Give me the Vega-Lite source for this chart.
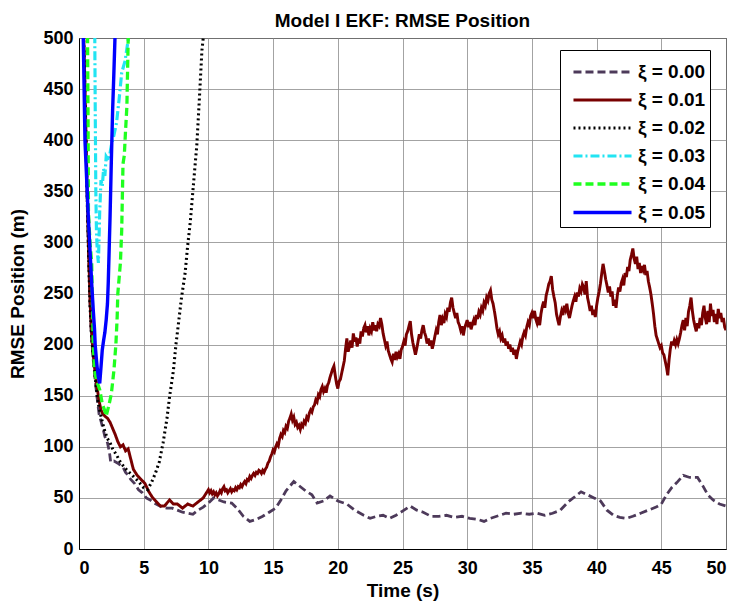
{
"$schema":"https://vega.github.io/schema/vega-lite/v6.json",
"autosize":{"type":"none"},
"width":647,"height":511,
"padding":{"left":79,"top":38,"right":10,"bottom":57},
"background":"white",
"title":{"text":"Model I EKF: RMSE Position","font":"Liberation Sans","fontSize":19,"fontWeight":"bold","color":"black","offset":-2},
"config":{
 "view":{"stroke":"black","strokeWidth":1},
 "axis":{"labelFont":"Liberation Sans","labelFontSize":18,"labelFontWeight":"bold","labelColor":"black","titleFont":"Liberation Sans","titleFontSize":19,"titleFontWeight":"bold","titleColor":"black","gridColor":"#8c8c8c","gridWidth":1,"gridOpacity":0.8,"domainColor":"black","ticks":false}
},
"data":{"values":[
{"s":"ξ = 0.00","t":0.25,"v":620},{"s":"ξ = 0.00","t":0.35,"v":500},{"s":"ξ = 0.00","t":0.45,"v":440},{"s":"ξ = 0.00","t":0.55,"v":390},{"s":"ξ = 0.00","t":0.65,"v":330},{"s":"ξ = 0.00","t":0.75,"v":280},{"s":"ξ = 0.00","t":0.85,"v":240},{"s":"ξ = 0.00","t":0.95,"v":210},{"s":"ξ = 0.00","t":1.1,"v":185},{"s":"ξ = 0.00","t":1.25,"v":165},{"s":"ξ = 0.00","t":1.4,"v":148},{"s":"ξ = 0.00","t":1.55,"v":132},{"s":"ξ = 0.00","t":1.7,"v":125},{"s":"ξ = 0.00","t":1.85,"v":118},{"s":"ξ = 0.00","t":2.0,"v":110},{"s":"ξ = 0.00","t":2.2,"v":104},{"s":"ξ = 0.00","t":2.35,"v":95},{"s":"ξ = 0.00","t":2.45,"v":85},{"s":"ξ = 0.00","t":2.7,"v":86},{"s":"ξ = 0.00","t":3.0,"v":84},{"s":"ξ = 0.00","t":3.2,"v":82},{"s":"ξ = 0.00","t":3.4,"v":80},{"s":"ξ = 0.00","t":3.6,"v":75},{"s":"ξ = 0.00","t":3.8,"v":72},{"s":"ξ = 0.00","t":4.0,"v":68},{"s":"ξ = 0.00","t":4.3,"v":64},{"s":"ξ = 0.00","t":4.6,"v":58},{"s":"ξ = 0.00","t":4.9,"v":55},{"s":"ξ = 0.00","t":5.2,"v":50},{"s":"ξ = 0.00","t":5.5,"v":48},{"s":"ξ = 0.00","t":5.8,"v":45},{"s":"ξ = 0.00","t":6.1,"v":43},{"s":"ξ = 0.00","t":6.4,"v":41},{"s":"ξ = 0.00","t":6.8,"v":40},{"s":"ξ = 0.00","t":7.2,"v":40},{"s":"ξ = 0.00","t":7.6,"v":38},{"s":"ξ = 0.00","t":8.0,"v":36},{"s":"ξ = 0.00","t":8.4,"v":35},{"s":"ξ = 0.00","t":8.8,"v":34},{"s":"ξ = 0.00","t":9.2,"v":38},{"s":"ξ = 0.00","t":9.6,"v":41},{"s":"ξ = 0.00","t":10.0,"v":45},{"s":"ξ = 0.00","t":10.4,"v":50},{"s":"ξ = 0.00","t":10.8,"v":48},{"s":"ξ = 0.00","t":11.2,"v":46},{"s":"ξ = 0.00","t":11.8,"v":45},{"s":"ξ = 0.00","t":12.2,"v":40},{"s":"ξ = 0.00","t":12.7,"v":32},{"s":"ξ = 0.00","t":13.2,"v":27},{"s":"ξ = 0.00","t":13.7,"v":29},{"s":"ξ = 0.00","t":14.2,"v":32},{"s":"ξ = 0.00","t":14.7,"v":36},{"s":"ξ = 0.00","t":15.2,"v":40},{"s":"ξ = 0.00","t":15.6,"v":48},{"s":"ξ = 0.00","t":16.0,"v":57},{"s":"ξ = 0.00","t":16.6,"v":66},{"s":"ξ = 0.00","t":17.0,"v":62},{"s":"ξ = 0.00","t":17.5,"v":57},{"s":"ξ = 0.00","t":18.0,"v":53},{"s":"ξ = 0.00","t":18.4,"v":45},{"s":"ξ = 0.00","t":18.9,"v":47},{"s":"ξ = 0.00","t":19.4,"v":52},{"s":"ξ = 0.00","t":20.0,"v":47},{"s":"ξ = 0.00","t":20.7,"v":44},{"s":"ξ = 0.00","t":21.3,"v":38},{"s":"ξ = 0.00","t":22.0,"v":33},{"s":"ξ = 0.00","t":22.5,"v":30},{"s":"ξ = 0.00","t":23.0,"v":32},{"s":"ξ = 0.00","t":23.5,"v":33},{"s":"ξ = 0.00","t":24.0,"v":30},{"s":"ξ = 0.00","t":24.5,"v":33},{"s":"ξ = 0.00","t":25.0,"v":37},{"s":"ξ = 0.00","t":25.6,"v":42},{"s":"ξ = 0.00","t":26.1,"v":38},{"s":"ξ = 0.00","t":26.6,"v":36},{"s":"ξ = 0.00","t":27.2,"v":32},{"s":"ξ = 0.00","t":27.8,"v":32},{"s":"ξ = 0.00","t":28.4,"v":33},{"s":"ξ = 0.00","t":29.0,"v":31},{"s":"ξ = 0.00","t":29.6,"v":32},{"s":"ξ = 0.00","t":30.2,"v":30},{"s":"ξ = 0.00","t":30.8,"v":29},{"s":"ξ = 0.00","t":31.3,"v":27},{"s":"ξ = 0.00","t":31.8,"v":30},{"s":"ξ = 0.00","t":32.5,"v":33},{"s":"ξ = 0.00","t":33.0,"v":35},{"s":"ξ = 0.00","t":33.6,"v":34},{"s":"ξ = 0.00","t":34.2,"v":35},{"s":"ξ = 0.00","t":34.8,"v":34},{"s":"ξ = 0.00","t":35.4,"v":35},{"s":"ξ = 0.00","t":36.0,"v":33},{"s":"ξ = 0.00","t":36.6,"v":35},{"s":"ξ = 0.00","t":37.2,"v":38},{"s":"ξ = 0.00","t":37.8,"v":46},{"s":"ξ = 0.00","t":38.4,"v":52},{"s":"ξ = 0.00","t":38.8,"v":56},{"s":"ξ = 0.00","t":39.3,"v":53},{"s":"ξ = 0.00","t":39.8,"v":50},{"s":"ξ = 0.00","t":40.3,"v":47},{"s":"ξ = 0.00","t":40.8,"v":38},{"s":"ξ = 0.00","t":41.3,"v":33},{"s":"ξ = 0.00","t":41.8,"v":31},{"s":"ξ = 0.00","t":42.3,"v":30},{"s":"ξ = 0.00","t":42.8,"v":32},{"s":"ξ = 0.00","t":43.4,"v":35},{"s":"ξ = 0.00","t":44.0,"v":38},{"s":"ξ = 0.00","t":44.6,"v":41},{"s":"ξ = 0.00","t":45.0,"v":44},{"s":"ξ = 0.00","t":45.4,"v":53},{"s":"ξ = 0.00","t":45.8,"v":60},{"s":"ξ = 0.00","t":46.2,"v":65},{"s":"ξ = 0.00","t":46.7,"v":72},{"s":"ξ = 0.00","t":47.2,"v":70},{"s":"ξ = 0.00","t":47.8,"v":70},{"s":"ξ = 0.00","t":48.2,"v":62},{"s":"ξ = 0.00","t":48.6,"v":53},{"s":"ξ = 0.00","t":49.0,"v":48},{"s":"ξ = 0.00","t":49.5,"v":44},{"s":"ξ = 0.00","t":50,"v":42},
{"s":"ξ = 0.01","t":0.25,"v":620},{"s":"ξ = 0.01","t":0.35,"v":510},{"s":"ξ = 0.01","t":0.45,"v":460},{"s":"ξ = 0.01","t":0.55,"v":400},{"s":"ξ = 0.01","t":0.65,"v":340},{"s":"ξ = 0.01","t":0.75,"v":290},{"s":"ξ = 0.01","t":0.85,"v":245},{"s":"ξ = 0.01","t":0.95,"v":215},{"s":"ξ = 0.01","t":1.1,"v":190},{"s":"ξ = 0.01","t":1.25,"v":172},{"s":"ξ = 0.01","t":1.4,"v":158},{"s":"ξ = 0.01","t":1.55,"v":145},{"s":"ξ = 0.01","t":1.7,"v":136},{"s":"ξ = 0.01","t":1.85,"v":132},{"s":"ξ = 0.01","t":2.0,"v":130},{"s":"ξ = 0.01","t":2.2,"v":128},{"s":"ξ = 0.01","t":2.4,"v":124},{"s":"ξ = 0.01","t":2.6,"v":118},{"s":"ξ = 0.01","t":2.8,"v":112},{"s":"ξ = 0.01","t":3.0,"v":105},{"s":"ξ = 0.01","t":3.2,"v":100},{"s":"ξ = 0.01","t":3.4,"v":102},{"s":"ξ = 0.01","t":3.6,"v":96},{"s":"ξ = 0.01","t":3.8,"v":98},{"s":"ξ = 0.01","t":4.0,"v":88},{"s":"ξ = 0.01","t":4.2,"v":78},{"s":"ξ = 0.01","t":4.5,"v":72},{"s":"ξ = 0.01","t":4.8,"v":68},{"s":"ξ = 0.01","t":5.1,"v":64},{"s":"ξ = 0.01","t":5.4,"v":56},{"s":"ξ = 0.01","t":5.7,"v":50},{"s":"ξ = 0.01","t":6.0,"v":46},{"s":"ξ = 0.01","t":6.3,"v":42},{"s":"ξ = 0.01","t":6.6,"v":42},{"s":"ξ = 0.01","t":7.0,"v":48},{"s":"ξ = 0.01","t":7.3,"v":44},{"s":"ξ = 0.01","t":7.6,"v":44},{"s":"ξ = 0.01","t":8.0,"v":40},{"s":"ξ = 0.01","t":8.4,"v":44},{"s":"ξ = 0.01","t":8.8,"v":42},{"s":"ξ = 0.01","t":9.2,"v":46},{"s":"ξ = 0.01","t":9.6,"v":50},
{"s":"ξ = 0.01","t":10.0,"v":58},{"s":"ξ = 0.01","t":10.1,"v":55},{"s":"ξ = 0.01","t":10.2,"v":57},{"s":"ξ = 0.01","t":10.3,"v":54},{"s":"ξ = 0.01","t":10.4,"v":56},{"s":"ξ = 0.01","t":10.5,"v":53},{"s":"ξ = 0.01","t":10.6,"v":55},{"s":"ξ = 0.01","t":10.7,"v":52},{"s":"ξ = 0.01","t":10.8,"v":54},{"s":"ξ = 0.01","t":10.9,"v":57},{"s":"ξ = 0.01","t":11.0,"v":55},{"s":"ξ = 0.01","t":11.1,"v":59},{"s":"ξ = 0.01","t":11.2,"v":61},{"s":"ξ = 0.01","t":11.3,"v":57},{"s":"ξ = 0.01","t":11.4,"v":58},{"s":"ξ = 0.01","t":11.5,"v":55},{"s":"ξ = 0.01","t":11.6,"v":57},{"s":"ξ = 0.01","t":11.7,"v":59},{"s":"ξ = 0.01","t":11.8,"v":56},{"s":"ξ = 0.01","t":11.9,"v":58},{"s":"ξ = 0.01","t":12.0,"v":57},{"s":"ξ = 0.01","t":12.1,"v":60},{"s":"ξ = 0.01","t":12.2,"v":58},{"s":"ξ = 0.01","t":12.3,"v":61},{"s":"ξ = 0.01","t":12.4,"v":60},{"s":"ξ = 0.01","t":12.5,"v":63},{"s":"ξ = 0.01","t":12.6,"v":61},{"s":"ξ = 0.01","t":12.7,"v":64},{"s":"ξ = 0.01","t":12.8,"v":66},{"s":"ξ = 0.01","t":12.9,"v":64},{"s":"ξ = 0.01","t":13.0,"v":68},{"s":"ξ = 0.01","t":13.1,"v":67},{"s":"ξ = 0.01","t":13.2,"v":71},{"s":"ξ = 0.01","t":13.3,"v":69},{"s":"ξ = 0.01","t":13.4,"v":72},{"s":"ξ = 0.01","t":13.5,"v":74},{"s":"ξ = 0.01","t":13.6,"v":72},{"s":"ξ = 0.01","t":13.7,"v":75},{"s":"ξ = 0.01","t":13.8,"v":74},{"s":"ξ = 0.01","t":13.9,"v":77},{"s":"ξ = 0.01","t":14.0,"v":76},{"s":"ξ = 0.01","t":14.1,"v":74},{"s":"ξ = 0.01","t":14.2,"v":77},{"s":"ξ = 0.01","t":14.3,"v":75},{"s":"ξ = 0.01","t":14.4,"v":78},{"s":"ξ = 0.01","t":14.5,"v":80},{"s":"ξ = 0.01","t":14.6,"v":84},{"s":"ξ = 0.01","t":14.7,"v":86},{"s":"ξ = 0.01","t":14.8,"v":90},{"s":"ξ = 0.01","t":14.9,"v":93},{"s":"ξ = 0.01","t":15.0,"v":97},{"s":"ξ = 0.01","t":15.1,"v":95},{"s":"ξ = 0.01","t":15.2,"v":100},{"s":"ξ = 0.01","t":15.3,"v":103},{"s":"ξ = 0.01","t":15.4,"v":101},{"s":"ξ = 0.01","t":15.5,"v":108},{"s":"ξ = 0.01","t":15.6,"v":112},{"s":"ξ = 0.01","t":15.7,"v":110},{"s":"ξ = 0.01","t":15.8,"v":116},{"s":"ξ = 0.01","t":15.9,"v":114},{"s":"ξ = 0.01","t":16.0,"v":120},{"s":"ξ = 0.01","t":16.1,"v":118},{"s":"ξ = 0.01","t":16.2,"v":125},{"s":"ξ = 0.01","t":16.3,"v":128},{"s":"ξ = 0.01","t":16.4,"v":132},{"s":"ξ = 0.01","t":16.5,"v":126},{"s":"ξ = 0.01","t":16.6,"v":129},{"s":"ξ = 0.01","t":16.7,"v":122},{"s":"ξ = 0.01","t":16.8,"v":124},{"s":"ξ = 0.01","t":16.9,"v":119},{"s":"ξ = 0.01","t":17.0,"v":121},{"s":"ξ = 0.01","t":17.1,"v":117},{"s":"ξ = 0.01","t":17.2,"v":122},{"s":"ξ = 0.01","t":17.3,"v":120},{"s":"ξ = 0.01","t":17.4,"v":125},{"s":"ξ = 0.01","t":17.5,"v":123},{"s":"ξ = 0.01","t":17.6,"v":129},{"s":"ξ = 0.01","t":17.7,"v":127},{"s":"ξ = 0.01","t":17.8,"v":133},{"s":"ξ = 0.01","t":17.9,"v":136},{"s":"ξ = 0.01","t":18.0,"v":134},{"s":"ξ = 0.01","t":18.1,"v":139},{"s":"ξ = 0.01","t":18.2,"v":141},{"s":"ξ = 0.01","t":18.3,"v":146},{"s":"ξ = 0.01","t":18.4,"v":144},{"s":"ξ = 0.01","t":18.5,"v":151},{"s":"ξ = 0.01","t":18.6,"v":149},{"s":"ξ = 0.01","t":18.7,"v":156},{"s":"ξ = 0.01","t":18.8,"v":159},{"s":"ξ = 0.01","t":18.9,"v":154},{"s":"ξ = 0.01","t":19.0,"v":157},{"s":"ξ = 0.01","t":19.1,"v":153},{"s":"ξ = 0.01","t":19.2,"v":160},{"s":"ξ = 0.01","t":19.3,"v":163},{"s":"ξ = 0.01","t":19.4,"v":168},{"s":"ξ = 0.01","t":19.5,"v":172},{"s":"ξ = 0.01","t":19.6,"v":176},{"s":"ξ = 0.01","t":19.7,"v":179},{"s":"ξ = 0.01","t":19.8,"v":170},{"s":"ξ = 0.01","t":19.9,"v":162},{"s":"ξ = 0.01","t":20.0,"v":157},{"s":"ξ = 0.01","t":20.1,"v":164},{"s":"ξ = 0.01","t":20.2,"v":166},{"s":"ξ = 0.01","t":20.3,"v":172},{"s":"ξ = 0.01","t":20.4,"v":178},{"s":"ξ = 0.01","t":20.5,"v":184},{"s":"ξ = 0.01","t":20.6,"v":196},{"s":"ξ = 0.01","t":20.7,"v":206},{"s":"ξ = 0.01","t":20.8,"v":193},{"s":"ξ = 0.01","t":20.9,"v":198},{"s":"ξ = 0.01","t":21.0,"v":204},{"s":"ξ = 0.01","t":21.1,"v":197},{"s":"ξ = 0.01","t":21.2,"v":211},{"s":"ξ = 0.01","t":21.3,"v":203},{"s":"ξ = 0.01","t":21.4,"v":207},{"s":"ξ = 0.01","t":21.5,"v":198},{"s":"ξ = 0.01","t":21.6,"v":206},{"s":"ξ = 0.01","t":21.7,"v":201},{"s":"ξ = 0.01","t":21.8,"v":213},{"s":"ξ = 0.01","t":21.9,"v":208},{"s":"ξ = 0.01","t":22.0,"v":216},{"s":"ξ = 0.01","t":22.1,"v":219},{"s":"ξ = 0.01","t":22.2,"v":212},{"s":"ξ = 0.01","t":22.3,"v":218},{"s":"ξ = 0.01","t":22.4,"v":209},{"s":"ξ = 0.01","t":22.5,"v":216},{"s":"ξ = 0.01","t":22.6,"v":213},{"s":"ξ = 0.01","t":22.7,"v":222},{"s":"ξ = 0.01","t":22.8,"v":214},{"s":"ξ = 0.01","t":22.9,"v":219},{"s":"ξ = 0.01","t":23.0,"v":213},{"s":"ξ = 0.01","t":23.1,"v":220},{"s":"ξ = 0.01","t":23.2,"v":218},{"s":"ξ = 0.01","t":23.3,"v":226},{"s":"ξ = 0.01","t":23.4,"v":220},{"s":"ξ = 0.01","t":23.5,"v":211},{"s":"ξ = 0.01","t":23.6,"v":205},{"s":"ξ = 0.01","t":23.7,"v":199},{"s":"ξ = 0.01","t":23.8,"v":203},{"s":"ξ = 0.01","t":23.9,"v":194},{"s":"ξ = 0.01","t":24.0,"v":190},{"s":"ξ = 0.01","t":24.1,"v":186},{"s":"ξ = 0.01","t":24.2,"v":183},{"s":"ξ = 0.01","t":24.3,"v":191},{"s":"ξ = 0.01","t":24.4,"v":185},{"s":"ξ = 0.01","t":24.5,"v":193},{"s":"ξ = 0.01","t":24.6,"v":188},{"s":"ξ = 0.01","t":24.7,"v":191},{"s":"ξ = 0.01","t":24.8,"v":186},{"s":"ξ = 0.01","t":24.9,"v":195},{"s":"ξ = 0.01","t":25.0,"v":198},{"s":"ξ = 0.01","t":25.1,"v":203},{"s":"ξ = 0.01","t":25.2,"v":199},{"s":"ξ = 0.01","t":25.3,"v":210},{"s":"ξ = 0.01","t":25.4,"v":213},{"s":"ξ = 0.01","t":25.5,"v":218},{"s":"ξ = 0.01","t":25.6,"v":223},{"s":"ξ = 0.01","t":25.7,"v":210},{"s":"ξ = 0.01","t":25.8,"v":202},{"s":"ξ = 0.01","t":25.9,"v":196},{"s":"ξ = 0.01","t":26.0,"v":190},{"s":"ξ = 0.01","t":26.1,"v":196},{"s":"ξ = 0.01","t":26.2,"v":203},{"s":"ξ = 0.01","t":26.3,"v":210},{"s":"ξ = 0.01","t":26.4,"v":206},{"s":"ξ = 0.01","t":26.5,"v":214},{"s":"ξ = 0.01","t":26.6,"v":219},{"s":"ξ = 0.01","t":26.7,"v":212},{"s":"ξ = 0.01","t":26.8,"v":208},{"s":"ξ = 0.01","t":26.9,"v":201},{"s":"ξ = 0.01","t":27.0,"v":206},{"s":"ξ = 0.01","t":27.1,"v":199},{"s":"ξ = 0.01","t":27.2,"v":204},{"s":"ξ = 0.01","t":27.3,"v":196},{"s":"ξ = 0.01","t":27.4,"v":201},{"s":"ξ = 0.01","t":27.5,"v":208},{"s":"ξ = 0.01","t":27.6,"v":214},{"s":"ξ = 0.01","t":27.7,"v":210},{"s":"ξ = 0.01","t":27.8,"v":222},{"s":"ξ = 0.01","t":27.9,"v":229},{"s":"ξ = 0.01","t":28.0,"v":219},{"s":"ξ = 0.01","t":28.1,"v":225},{"s":"ξ = 0.01","t":28.2,"v":221},{"s":"ξ = 0.01","t":28.3,"v":230},{"s":"ξ = 0.01","t":28.4,"v":227},{"s":"ξ = 0.01","t":28.5,"v":236},{"s":"ξ = 0.01","t":28.6,"v":232},{"s":"ξ = 0.01","t":28.7,"v":241},{"s":"ξ = 0.01","t":28.8,"v":246},{"s":"ξ = 0.01","t":28.9,"v":236},{"s":"ξ = 0.01","t":29.0,"v":231},{"s":"ξ = 0.01","t":29.1,"v":226},{"s":"ξ = 0.01","t":29.2,"v":231},{"s":"ξ = 0.01","t":29.3,"v":222},{"s":"ξ = 0.01","t":29.4,"v":219},{"s":"ξ = 0.01","t":29.5,"v":214},{"s":"ξ = 0.01","t":29.6,"v":218},{"s":"ξ = 0.01","t":29.7,"v":209},{"s":"ξ = 0.01","t":29.8,"v":216},{"s":"ξ = 0.01","t":29.9,"v":220},{"s":"ξ = 0.01","t":30.0,"v":224},{"s":"ξ = 0.01","t":30.1,"v":217},{"s":"ξ = 0.01","t":30.2,"v":222},{"s":"ξ = 0.01","t":30.3,"v":215},{"s":"ξ = 0.01","t":30.4,"v":220},{"s":"ξ = 0.01","t":30.5,"v":224},{"s":"ξ = 0.01","t":30.6,"v":219},{"s":"ξ = 0.01","t":30.7,"v":229},{"s":"ξ = 0.01","t":30.8,"v":225},{"s":"ξ = 0.01","t":30.9,"v":232},{"s":"ξ = 0.01","t":31.0,"v":229},{"s":"ξ = 0.01","t":31.1,"v":236},{"s":"ξ = 0.01","t":31.2,"v":233},{"s":"ξ = 0.01","t":31.3,"v":241},{"s":"ξ = 0.01","t":31.4,"v":238},{"s":"ξ = 0.01","t":31.5,"v":246},{"s":"ξ = 0.01","t":31.6,"v":243},{"s":"ξ = 0.01","t":31.7,"v":250},{"s":"ξ = 0.01","t":31.8,"v":253},{"s":"ξ = 0.01","t":31.9,"v":244},{"s":"ξ = 0.01","t":32.0,"v":240},{"s":"ξ = 0.01","t":32.1,"v":233},{"s":"ξ = 0.01","t":32.2,"v":225},{"s":"ξ = 0.01","t":32.3,"v":216},{"s":"ξ = 0.01","t":32.4,"v":210},{"s":"ξ = 0.01","t":32.5,"v":213},{"s":"ξ = 0.01","t":32.6,"v":206},{"s":"ξ = 0.01","t":32.7,"v":209},{"s":"ξ = 0.01","t":32.8,"v":202},{"s":"ξ = 0.01","t":32.9,"v":206},{"s":"ξ = 0.01","t":33.0,"v":199},{"s":"ξ = 0.01","t":33.1,"v":203},{"s":"ξ = 0.01","t":33.2,"v":196},{"s":"ξ = 0.01","t":33.3,"v":200},{"s":"ξ = 0.01","t":33.4,"v":193},{"s":"ξ = 0.01","t":33.5,"v":197},{"s":"ξ = 0.01","t":33.6,"v":190},{"s":"ξ = 0.01","t":33.7,"v":195},{"s":"ξ = 0.01","t":33.8,"v":186},{"s":"ξ = 0.01","t":33.9,"v":193},{"s":"ξ = 0.01","t":34.0,"v":198},{"s":"ξ = 0.01","t":34.1,"v":203},{"s":"ξ = 0.01","t":34.2,"v":200},{"s":"ξ = 0.01","t":34.3,"v":208},{"s":"ξ = 0.01","t":34.4,"v":212},{"s":"ξ = 0.01","t":34.5,"v":209},{"s":"ξ = 0.01","t":34.6,"v":217},{"s":"ξ = 0.01","t":34.7,"v":222},{"s":"ξ = 0.01","t":34.8,"v":219},{"s":"ξ = 0.01","t":34.9,"v":228},{"s":"ξ = 0.01","t":35.0,"v":231},{"s":"ξ = 0.01","t":35.1,"v":226},{"s":"ξ = 0.01","t":35.2,"v":233},{"s":"ξ = 0.01","t":35.3,"v":225},{"s":"ξ = 0.01","t":35.4,"v":221},{"s":"ξ = 0.01","t":35.5,"v":227},{"s":"ξ = 0.01","t":35.6,"v":219},{"s":"ξ = 0.01","t":35.7,"v":230},{"s":"ξ = 0.01","t":35.8,"v":237},{"s":"ξ = 0.01","t":35.9,"v":242},{"s":"ξ = 0.01","t":36.0,"v":236},{"s":"ξ = 0.01","t":36.1,"v":248},{"s":"ξ = 0.01","t":36.2,"v":253},{"s":"ξ = 0.01","t":36.3,"v":259},{"s":"ξ = 0.01","t":36.4,"v":262},{"s":"ξ = 0.01","t":36.5,"v":267},{"s":"ξ = 0.01","t":36.6,"v":254},{"s":"ξ = 0.01","t":36.7,"v":247},{"s":"ξ = 0.01","t":36.8,"v":241},{"s":"ξ = 0.01","t":36.9,"v":230},{"s":"ξ = 0.01","t":37.0,"v":224},{"s":"ξ = 0.01","t":37.1,"v":219},{"s":"ξ = 0.01","t":37.2,"v":227},{"s":"ξ = 0.01","t":37.3,"v":233},{"s":"ξ = 0.01","t":37.4,"v":229},{"s":"ξ = 0.01","t":37.5,"v":238},{"s":"ξ = 0.01","t":37.6,"v":234},{"s":"ξ = 0.01","t":37.7,"v":240},{"s":"ξ = 0.01","t":37.8,"v":231},{"s":"ξ = 0.01","t":37.9,"v":226},{"s":"ξ = 0.01","t":38.0,"v":232},{"s":"ξ = 0.01","t":38.1,"v":238},{"s":"ξ = 0.01","t":38.2,"v":243},{"s":"ξ = 0.01","t":38.3,"v":247},{"s":"ξ = 0.01","t":38.4,"v":242},{"s":"ξ = 0.01","t":38.5,"v":251},{"s":"ξ = 0.01","t":38.6,"v":247},{"s":"ξ = 0.01","t":38.7,"v":255},{"s":"ξ = 0.01","t":38.8,"v":252},{"s":"ξ = 0.01","t":38.9,"v":259},{"s":"ξ = 0.01","t":39.0,"v":256},{"s":"ξ = 0.01","t":39.1,"v":249},{"s":"ξ = 0.01","t":39.2,"v":262},{"s":"ξ = 0.01","t":39.3,"v":246},{"s":"ξ = 0.01","t":39.4,"v":240},{"s":"ξ = 0.01","t":39.5,"v":233},{"s":"ξ = 0.01","t":39.6,"v":238},{"s":"ξ = 0.01","t":39.7,"v":229},{"s":"ξ = 0.01","t":39.8,"v":234},{"s":"ξ = 0.01","t":39.9,"v":227},{"s":"ξ = 0.01","t":40.0,"v":238},{"s":"ξ = 0.01","t":40.1,"v":246},{"s":"ξ = 0.01","t":40.2,"v":252},{"s":"ξ = 0.01","t":40.3,"v":260},{"s":"ξ = 0.01","t":40.4,"v":270},{"s":"ξ = 0.01","t":40.5,"v":279},{"s":"ξ = 0.01","t":40.6,"v":272},{"s":"ξ = 0.01","t":40.7,"v":264},{"s":"ξ = 0.01","t":40.8,"v":258},{"s":"ξ = 0.01","t":40.9,"v":251},{"s":"ξ = 0.01","t":41.0,"v":257},{"s":"ξ = 0.01","t":41.1,"v":247},{"s":"ξ = 0.01","t":41.2,"v":252},{"s":"ξ = 0.01","t":41.3,"v":238},{"s":"ξ = 0.01","t":41.4,"v":244},{"s":"ξ = 0.01","t":41.5,"v":236},{"s":"ξ = 0.01","t":41.6,"v":248},{"s":"ξ = 0.01","t":41.7,"v":256},{"s":"ξ = 0.01","t":41.8,"v":252},{"s":"ξ = 0.01","t":41.9,"v":260},{"s":"ξ = 0.01","t":42.0,"v":264},{"s":"ξ = 0.01","t":42.1,"v":258},{"s":"ξ = 0.01","t":42.2,"v":270},{"s":"ξ = 0.01","t":42.3,"v":266},{"s":"ξ = 0.01","t":42.4,"v":276},{"s":"ξ = 0.01","t":42.5,"v":272},{"s":"ξ = 0.01","t":42.6,"v":283},{"s":"ξ = 0.01","t":42.7,"v":288},{"s":"ξ = 0.01","t":42.8,"v":294},{"s":"ξ = 0.01","t":42.9,"v":284},{"s":"ξ = 0.01","t":43.0,"v":279},{"s":"ξ = 0.01","t":43.1,"v":286},{"s":"ξ = 0.01","t":43.2,"v":274},{"s":"ξ = 0.01","t":43.3,"v":280},{"s":"ξ = 0.01","t":43.4,"v":270},{"s":"ξ = 0.01","t":43.5,"v":277},{"s":"ξ = 0.01","t":43.6,"v":273},{"s":"ξ = 0.01","t":43.7,"v":278},{"s":"ξ = 0.01","t":43.8,"v":268},{"s":"ξ = 0.01","t":43.9,"v":272},{"s":"ξ = 0.01","t":44.0,"v":262},{"s":"ξ = 0.01","t":44.1,"v":256},{"s":"ξ = 0.01","t":44.2,"v":249},{"s":"ξ = 0.01","t":44.3,"v":240},{"s":"ξ = 0.01","t":44.4,"v":230},{"s":"ξ = 0.01","t":44.5,"v":218},{"s":"ξ = 0.01","t":44.6,"v":209},{"s":"ξ = 0.01","t":44.7,"v":205},{"s":"ξ = 0.01","t":44.8,"v":201},{"s":"ξ = 0.01","t":44.9,"v":197},{"s":"ξ = 0.01","t":45.0,"v":199},{"s":"ξ = 0.01","t":45.1,"v":192},{"s":"ξ = 0.01","t":45.2,"v":190},{"s":"ξ = 0.01","t":45.3,"v":184},{"s":"ξ = 0.01","t":45.4,"v":178},{"s":"ξ = 0.01","t":45.5,"v":170},{"s":"ξ = 0.01","t":45.6,"v":185},{"s":"ξ = 0.01","t":45.7,"v":196},{"s":"ξ = 0.01","t":45.8,"v":203},{"s":"ξ = 0.01","t":45.9,"v":199},{"s":"ξ = 0.01","t":46.0,"v":204},{"s":"ξ = 0.01","t":46.1,"v":200},{"s":"ξ = 0.01","t":46.2,"v":205},{"s":"ξ = 0.01","t":46.3,"v":201},{"s":"ξ = 0.01","t":46.4,"v":206},{"s":"ξ = 0.01","t":46.5,"v":212},{"s":"ξ = 0.01","t":46.6,"v":219},{"s":"ξ = 0.01","t":46.7,"v":224},{"s":"ξ = 0.01","t":46.8,"v":214},{"s":"ξ = 0.01","t":46.9,"v":226},{"s":"ξ = 0.01","t":47.0,"v":218},{"s":"ξ = 0.01","t":47.1,"v":232},{"s":"ξ = 0.01","t":47.2,"v":238},{"s":"ξ = 0.01","t":47.3,"v":246},{"s":"ξ = 0.01","t":47.4,"v":233},{"s":"ξ = 0.01","t":47.5,"v":224},{"s":"ξ = 0.01","t":47.6,"v":218},{"s":"ξ = 0.01","t":47.7,"v":213},{"s":"ξ = 0.01","t":47.8,"v":221},{"s":"ξ = 0.01","t":47.9,"v":216},{"s":"ξ = 0.01","t":48.0,"v":226},{"s":"ξ = 0.01","t":48.1,"v":219},{"s":"ξ = 0.01","t":48.2,"v":231},{"s":"ξ = 0.01","t":48.3,"v":238},{"s":"ξ = 0.01","t":48.4,"v":226},{"s":"ξ = 0.01","t":48.5,"v":220},{"s":"ξ = 0.01","t":48.6,"v":233},{"s":"ξ = 0.01","t":48.7,"v":222},{"s":"ξ = 0.01","t":48.8,"v":240},{"s":"ξ = 0.01","t":48.9,"v":228},{"s":"ξ = 0.01","t":49.0,"v":234},{"s":"ξ = 0.01","t":49.1,"v":222},{"s":"ξ = 0.01","t":49.2,"v":230},{"s":"ξ = 0.01","t":49.3,"v":220},{"s":"ξ = 0.01","t":49.4,"v":235},{"s":"ξ = 0.01","t":49.5,"v":226},{"s":"ξ = 0.01","t":49.6,"v":231},{"s":"ξ = 0.01","t":49.7,"v":222},{"s":"ξ = 0.01","t":49.8,"v":226},{"s":"ξ = 0.01","t":49.9,"v":217},{"s":"ξ = 0.01","t":50.0,"v":214},
{"s":"ξ = 0.02","t":0.25,"v":620},{"s":"ξ = 0.02","t":0.35,"v":505},{"s":"ξ = 0.02","t":0.45,"v":450},{"s":"ξ = 0.02","t":0.55,"v":395},{"s":"ξ = 0.02","t":0.65,"v":335},{"s":"ξ = 0.02","t":0.75,"v":285},{"s":"ξ = 0.02","t":0.85,"v":240},{"s":"ξ = 0.02","t":0.95,"v":212},{"s":"ξ = 0.02","t":1.1,"v":188},{"s":"ξ = 0.02","t":1.25,"v":168},{"s":"ξ = 0.02","t":1.4,"v":150},{"s":"ξ = 0.02","t":1.55,"v":138},{"s":"ξ = 0.02","t":1.7,"v":130},{"s":"ξ = 0.02","t":1.85,"v":122},{"s":"ξ = 0.02","t":2.0,"v":115},{"s":"ξ = 0.02","t":2.2,"v":108},{"s":"ξ = 0.02","t":2.4,"v":104},{"s":"ξ = 0.02","t":2.6,"v":98},{"s":"ξ = 0.02","t":2.9,"v":92},{"s":"ξ = 0.02","t":3.2,"v":85},{"s":"ξ = 0.02","t":3.5,"v":80},{"s":"ξ = 0.02","t":3.8,"v":76},{"s":"ξ = 0.02","t":4.2,"v":71},{"s":"ξ = 0.02","t":4.6,"v":66},{"s":"ξ = 0.02","t":5.0,"v":60},{"s":"ξ = 0.02","t":5.3,"v":58},{"s":"ξ = 0.02","t":5.6,"v":65},{"s":"ξ = 0.02","t":5.9,"v":74},{"s":"ξ = 0.02","t":6.2,"v":85},{"s":"ξ = 0.02","t":6.5,"v":104},{"s":"ξ = 0.02","t":6.8,"v":128},{"s":"ξ = 0.02","t":7.0,"v":149},{"s":"ξ = 0.02","t":7.3,"v":175},{"s":"ξ = 0.02","t":7.5,"v":201},{"s":"ξ = 0.02","t":7.7,"v":222},{"s":"ξ = 0.02","t":7.9,"v":244},{"s":"ξ = 0.02","t":8.2,"v":270},{"s":"ξ = 0.02","t":8.4,"v":297},{"s":"ξ = 0.02","t":8.6,"v":320},{"s":"ξ = 0.02","t":8.8,"v":350},{"s":"ξ = 0.02","t":9.0,"v":380},{"s":"ξ = 0.02","t":9.1,"v":394},{"s":"ξ = 0.02","t":9.3,"v":440},{"s":"ξ = 0.02","t":9.5,"v":488},{"s":"ξ = 0.02","t":9.6,"v":500},{"s":"ξ = 0.02","t":9.8,"v":560},
{"s":"ξ = 0.03","t":1.15,"v":620},{"s":"ξ = 0.03","t":1.22,"v":500},{"s":"ξ = 0.03","t":1.26,"v":420},{"s":"ξ = 0.03","t":1.3,"v":350},{"s":"ξ = 0.03","t":1.35,"v":310},{"s":"ξ = 0.03","t":1.42,"v":290},{"s":"ξ = 0.03","t":1.5,"v":280},{"s":"ξ = 0.03","t":1.6,"v":330},{"s":"ξ = 0.03","t":1.7,"v":361},{"s":"ξ = 0.03","t":1.8,"v":355},{"s":"ξ = 0.03","t":1.9,"v":372},{"s":"ξ = 0.03","t":2.0,"v":365},{"s":"ξ = 0.03","t":2.1,"v":384},{"s":"ξ = 0.03","t":2.3,"v":380},{"s":"ξ = 0.03","t":2.5,"v":395},{"s":"ξ = 0.03","t":2.7,"v":405},{"s":"ξ = 0.03","t":2.9,"v":417},{"s":"ξ = 0.03","t":3.1,"v":440},{"s":"ξ = 0.03","t":3.3,"v":466},{"s":"ξ = 0.03","t":3.55,"v":477},{"s":"ξ = 0.03","t":3.8,"v":498},{"s":"ξ = 0.03","t":3.9,"v":560},
{"s":"ξ = 0.04","t":0.6,"v":620},{"s":"ξ = 0.04","t":0.66,"v":500},{"s":"ξ = 0.04","t":0.7,"v":420},{"s":"ξ = 0.04","t":0.73,"v":330},{"s":"ξ = 0.04","t":0.85,"v":300},{"s":"ξ = 0.04","t":0.98,"v":280},{"s":"ξ = 0.04","t":1.1,"v":200},{"s":"ξ = 0.04","t":1.2,"v":175},{"s":"ξ = 0.04","t":1.35,"v":165},{"s":"ξ = 0.04","t":1.6,"v":156},{"s":"ξ = 0.04","t":1.8,"v":142},{"s":"ξ = 0.04","t":2.0,"v":135},{"s":"ξ = 0.04","t":2.1,"v":130},{"s":"ξ = 0.04","t":2.3,"v":140},{"s":"ξ = 0.04","t":2.5,"v":152},{"s":"ξ = 0.04","t":2.7,"v":175},{"s":"ξ = 0.04","t":2.85,"v":200},{"s":"ξ = 0.04","t":2.95,"v":227},{"s":"ξ = 0.04","t":3.0,"v":250},{"s":"ξ = 0.04","t":3.2,"v":280},{"s":"ξ = 0.04","t":3.3,"v":312},{"s":"ξ = 0.04","t":3.4,"v":377},{"s":"ξ = 0.04","t":3.5,"v":385},{"s":"ξ = 0.04","t":3.6,"v":410},{"s":"ξ = 0.04","t":3.7,"v":433},{"s":"ξ = 0.04","t":3.8,"v":498},{"s":"ξ = 0.04","t":3.9,"v":560},
{"s":"ξ = 0.05","t":0.25,"v":620},{"s":"ξ = 0.05","t":0.33,"v":500},{"s":"ξ = 0.05","t":0.46,"v":400},{"s":"ξ = 0.05","t":0.72,"v":325},{"s":"ξ = 0.05","t":0.98,"v":260},{"s":"ξ = 0.05","t":1.1,"v":234},{"s":"ξ = 0.05","t":1.2,"v":215},{"s":"ξ = 0.05","t":1.25,"v":200},{"s":"ξ = 0.05","t":1.35,"v":185},{"s":"ξ = 0.05","t":1.4,"v":178},{"s":"ξ = 0.05","t":1.5,"v":168},{"s":"ξ = 0.05","t":1.6,"v":162},{"s":"ξ = 0.05","t":1.7,"v":178},{"s":"ξ = 0.05","t":1.8,"v":195},{"s":"ξ = 0.05","t":1.9,"v":204},{"s":"ξ = 0.05","t":2.0,"v":212},{"s":"ξ = 0.05","t":2.1,"v":224},{"s":"ξ = 0.05","t":2.2,"v":240},{"s":"ξ = 0.05","t":2.26,"v":260},{"s":"ξ = 0.05","t":2.4,"v":325},{"s":"ξ = 0.05","t":2.5,"v":380},{"s":"ξ = 0.05","t":2.6,"v":430},{"s":"ξ = 0.05","t":2.68,"v":460},{"s":"ξ = 0.05","t":2.78,"v":500},{"s":"ξ = 0.05","t":2.85,"v":600}
]},
"mark":{"type":"line","clip":true},
"encoding":{
 "x":{"field":"t","type":"quantitative","title":"Time (s)","scale":{"domain":[0,50],"nice":false},"axis":{"values":[0,5,10,15,20,25,30,35,40,45,50],"labelPadding":10,"titlePadding":4}},
 "y":{"field":"v","type":"quantitative","title":"RMSE Position (m)","scale":{"domain":[0,500],"nice":false},"axis":{"values":[0,50,100,150,200,250,300,350,400,450,500],"labelPadding":6,"titlePadding":15}},
 "strokeWidth":{"field":"s","type":"nominal","scale":{"domain":["ξ = 0.00","ξ = 0.01","ξ = 0.02","ξ = 0.03","ξ = 0.04","ξ = 0.05"],"range":[2.8,3.4,2.6,2.6,2.8,3.2]},"legend":null},
 "color":{"field":"s","type":"nominal","scale":{"domain":["ξ = 0.00","ξ = 0.01","ξ = 0.02","ξ = 0.03","ξ = 0.04","ξ = 0.05"],"range":["#4d3a5a","#780000","#000000","#22e4f2","#1fff1f","#0000ff"]},
  "legend":{"title":null,"orient":"none","legendX":481,"legendY":12,"symbolType":"M-1.78,0H1.78","symbolSize":1063,"symbolStrokeWidth":3,"symbolOffset":20,"labelFont":"Liberation Sans","labelFontSize":19,"labelFontWeight":"bold","labelColor":"black","labelOffset":17,"strokeColor":"black","fillColor":"white","padding":4,"rowPadding":0}},
 "strokeDash":{"field":"s","type":"nominal","scale":{"domain":["ξ = 0.00","ξ = 0.01","ξ = 0.02","ξ = 0.03","ξ = 0.04","ξ = 0.05"],"range":[[8,4],[1,0],[2,3],[9,3,2,3],[8,4],[1,0]]},
  "legend":{"title":null,"orient":"none","legendX":481,"legendY":12,"symbolType":"M-1.78,0H1.78","symbolSize":1063,"symbolStrokeWidth":3,"symbolOffset":20,"labelFont":"Liberation Sans","labelFontSize":19,"labelFontWeight":"bold","labelColor":"black","labelOffset":17,"strokeColor":"black","fillColor":"white","padding":4,"rowPadding":0}}
}
}
